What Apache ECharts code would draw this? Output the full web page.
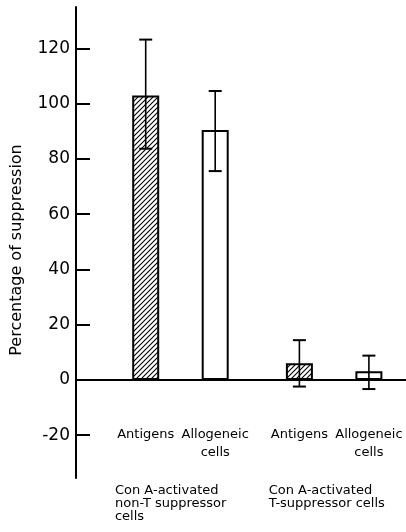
<!DOCTYPE html>
<html>
<head>
<meta charset="utf-8">
<script src="https://cdn.jsdelivr.net/npm/echarts@6/dist/echarts.min.js"></script>
<style>
html,body{margin:0;padding:0;background:#fff;}
#chart{width:406px;height:532px;}
</style>
</head>
<body>
<div id="chart"></div>
<script>
// ---- data ----
var groupLabels = ['Con A-activated\nnon-T suppressor\ncells', 'Con A-activated\nT-suppressor cells'];
var seriesNames = ['Antigens', 'Allogeneic\ncells'];
var antigensValues = [103, 6];
var allogeneicValues = [90.5, 3.1];
var antigensErrLow = [83.7, -2.4];
var antigensErrHigh = [123.2, 14.4];
var allogeneicErrLow = [75.6, -3.3];
var allogeneicErrHigh = [104.6, 8.8];
var yTickValues = [-20, 0, 20, 40, 60, 80, 100, 120];
var yMin = -35.5, yMax = 135;

// ---- styles ----
var FONT = 'DejaVu Sans';
var BAR_W = 27;
var BAR_GAP_PX = 42.5;
var OFFSET = (BAR_W + BAR_GAP_PX) / 2;

function hatch() {
  var s = 5;
  var c = document.createElement('canvas');
  c.width = s; c.height = s;
  var g = c.getContext('2d');
  g.fillStyle = '#fff';
  g.fillRect(0, 0, s, s);
  g.strokeStyle = '#000';
  g.lineWidth = 1.1;
  g.beginPath();
  g.moveTo(-1, s + 1); g.lineTo(s + 1, -1);
  g.moveTo(-1, 1); g.lineTo(1, -1);
  g.moveTo(s - 1, s + 1); g.lineTo(s + 1, s - 1);
  g.stroke();
  return c;
}

function errSeries(name, lows, highs, sign) {
  return {
    type: 'custom',
    name: name + '-err',
    xAxisIndex: 1,
    yAxisIndex: 1,
    z: 10,
    data: lows.map(function (lo, i) { return [i, lo, highs[i]]; }),
    renderItem: function (params, api) {
      var cx = api.coord([api.value(0), 0])[0] + sign * OFFSET;
      var yl = api.coord([api.value(0), api.value(1)])[1];
      var yh = api.coord([api.value(0), api.value(2)])[1];
      var cap = 6.5;
      var st = { stroke: '#000', lineWidth: 1.6 };
      return {
        type: 'group',
        children: [
          { type: 'line', shape: { x1: cx, y1: yl, x2: cx, y2: yh }, style: st },
          { type: 'line', shape: { x1: cx - cap, y1: yh, x2: cx + cap, y2: yh }, style: { stroke: '#000', lineWidth: 2 } },
          { type: 'line', shape: { x1: cx - cap, y1: yl, x2: cx + cap, y2: yl }, style: { stroke: '#000', lineWidth: 2 } }
        ]
      };
    }
  };
}

var chart = echarts.init(document.getElementById('chart'), null, { renderer: 'canvas' });

var barLabel = {
  show: true,
  position: 'bottom',
  distance: 46,
  formatter: '{a}',
  color: '#000',
  fontFamily: FONT,
  fontSize: 13,
  lineHeight: 18,
  align: 'center'
};

var option = {
  backgroundColor: '#fff',
  animation: false,
  grid: [
    { left: 76, right: 0, top: 7, bottom: 54, containLabel: false, outerBoundsMode: 'none' },
    { left: 103.6, right: -5, top: 7, bottom: 54, containLabel: false, outerBoundsMode: 'none' }
  ],
  xAxis: [
    {
      type: 'value', gridIndex: 0, min: 0, max: 1,
      axisLine: { show: true, onZero: true, lineStyle: { color: '#000', width: 2 } },
      axisTick: { show: false }, axisLabel: { show: false }, splitLine: { show: false }
    },
    {
      type: 'category', gridIndex: 1, data: groupLabels,
      axisLine: { show: false, onZero: false }, axisTick: { show: false }, splitLine: { show: false },
      axisLabel: {
        margin: 6,
        interval: 0,
        formatter: function (v) {
          return v.split('\n').map(function (l) { return '{g|' + l + '}'; }).join('\n');
        },
        rich: {
          g: { width: 131, align: 'left', fontFamily: FONT, fontSize: 13, lineHeight: 13, color: '#000' }
        }
      }
    }
  ],
  yAxis: [
    {
      type: 'value', gridIndex: 0, min: yMin, max: yMax,
      name: 'Percentage of suppression',
      nameLocation: 'middle',
      nameGap: 51,
      nameTextStyle: { fontFamily: FONT, fontSize: 16, color: '#000', padding: [0, 15, 0, 0] },
      axisLine: { show: true, onZero: false, lineStyle: { color: '#000', width: 2 } },
      axisTick: { show: true, inside: true, length: 14, customValues: yTickValues, lineStyle: { color: '#000', width: 2 } },
      axisLabel: { show: true, customValues: yTickValues, margin: 6, fontFamily: FONT, fontSize: 17, color: '#000' },
      splitLine: { show: false }
    },
    {
      type: 'value', gridIndex: 1, min: yMin, max: yMax, show: false
    }
  ],
  series: [
    {
      type: 'bar', name: seriesNames[0], xAxisIndex: 1, yAxisIndex: 1,
      data: antigensValues,
      barWidth: BAR_W,
      barGap: (BAR_GAP_PX / BAR_W * 100) + '%',
      itemStyle: { color: { image: hatch(), repeat: 'repeat' }, borderColor: '#000', borderWidth: 2 },
      label: barLabel
    },
    {
      type: 'bar', name: seriesNames[1], xAxisIndex: 1, yAxisIndex: 1,
      data: allogeneicValues,
      barWidth: BAR_W,
      barGap: (BAR_GAP_PX / BAR_W * 100) + '%',
      itemStyle: { color: '#fff', borderColor: '#000', borderWidth: 2 },
      label: barLabel
    },
    errSeries('Antigens', antigensErrLow, antigensErrHigh, -1),
    errSeries('Allogeneic', allogeneicErrLow, allogeneicErrHigh, 1)
  ]
};
chart.setOption(option);
</script>
</body>
</html>
